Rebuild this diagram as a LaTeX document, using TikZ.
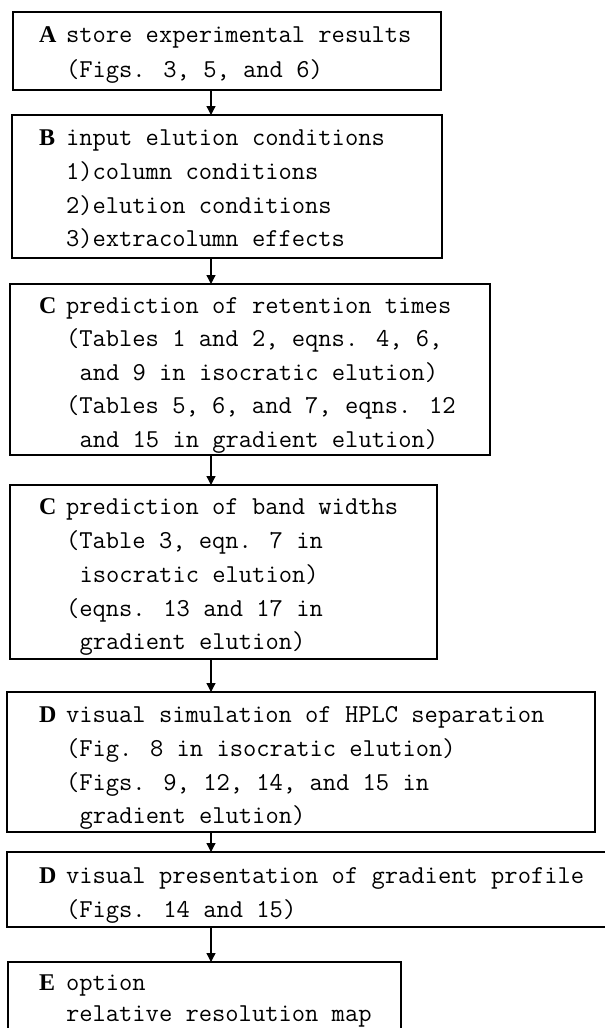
\documentclass[tikz,border=0pt]{standalone}
\usepackage{fontspec}
\newfontfamily\initfont{Liberation Serif}
\usetikzlibrary{arrows.meta}
\begin{document}
\begin{tikzpicture}[x=1pt,y=-1pt,
  stage/.style={draw, line width=1.6pt, inner sep=0pt, outer sep=0pt, anchor=north west},
  ln/.style={anchor=base west, inner sep=0pt, outer sep=0pt,
             font=\ttfamily\fontsize{25.8}{30}\selectfont},
  tag/.style={anchor=base west, inner sep=0pt, outer sep=0pt,
              font=\initfont\bfseries\fontsize{24}{28}\selectfont},
  flow/.style={-{Triangle[width=9pt,length=9pt]}, line width=1.3pt}]
\useasboundingbox (0,0) rectangle (605,1028);
\clip (0,0) rectangle (605,1028);
\coordinate (axis) at (211,0);

% boxes of the flow chart
\node[stage, minimum width=428pt, minimum height=78pt]  (A)  at (13,12)  {};
\node[stage, minimum width=430pt, minimum height=143pt] (B)  at (12,115) {};
\node[stage, minimum width=480pt, minimum height=171pt] (C)  at (10,284) {};
\node[stage, minimum width=427pt, minimum height=174pt] (C2) at (10,485) {};
\node[stage, minimum width=588pt, minimum height=140pt] (D)  at (7,692)  {};
\node[stage, minimum width=620pt, minimum height=75pt]  (D2) at (7,852)  {};
\node[stage, minimum width=393pt, minimum height=120pt] (E)  at (8,962)  {};

% A
\node[tag] (tA) at (39,42) {A};
\node[ln] (a1) at (66,42) {store experimental results};
\node[ln] (a2) at (66,77) {(Figs. 3, 5, and 6)};
% B
\node[tag] (tB) at (39,145) {B};
\node[ln] (b1) at (66,145) {input elution conditions};
\node[ln] (b2) at (66,179) {1)column conditions};
\node[ln] (b3) at (66,213) {2)elution conditions};
\node[ln] (b4) at (66,246) {3)extracolumn effects};
% C
\node[tag] (tC) at (39,313) {C};
\node[ln] (c1) at (66,313)    {prediction of retention times};
\node[ln] (c2) at (66,346.5)  {(Tables 1 and 2, eqns. 4, 6,};
\node[ln] (c3) at (79.5,380)  {and 9 in isocratic elution)};
\node[ln] (c4) at (66,413.5)  {(Tables 5, 6, and 7, eqns. 12};
\node[ln] (c5) at (79.5,447)  {and 15 in gradient elution)};
% C (band widths)
\node[tag] (tC2) at (39,514) {C};
\node[ln] (d1) at (66,514)    {prediction of band widths};
\node[ln] (d2) at (66,548)    {(Table 3, eqn. 7 in};
\node[ln] (d3) at (79.5,582)  {isocratic elution)};
\node[ln] (d4) at (66,616)    {(eqns. 13 and 17 in};
\node[ln] (d5) at (79.5,649)  {gradient elution)};
% D
\node[tag] (tD) at (39,722) {D};
\node[ln] (e1) at (66,722)    {visual simulation of HPLC separation};
\node[ln] (e2) at (66,756)    {(Fig. 8 in isocratic elution)};
\node[ln] (e3) at (66,790)    {(Figs. 9, 12, 14, and 15 in};
\node[ln] (e4) at (79.5,823)  {gradient elution)};
% D (gradient profile)
\node[tag] (tD2) at (39,883) {D};
\node[ln] (f1) at (66,883) {visual presentation of gradient profile};
\node[ln] (f2) at (66,917) {(Figs. 14 and 15)};
% E
\node[tag] (tE) at (39,990) {E};
\node[ln] (g1) at (66,990)  {option};
\node[ln] (g2) at (66,1021) {relative resolution map};

% connectors
\draw[flow] (A.south -| axis)  -- (B.north -| axis);
\draw[flow] (B.south -| axis)  -- (C.north -| axis);
\draw[flow] (C.south -| axis)  -- (C2.north -| axis);
\draw[flow] (C2.south -| axis) -- (D.north -| axis);
\draw[flow] (D.south -| axis)  -- (D2.north -| axis);
\draw[flow] (D2.south -| axis) -- (E.north -| axis);
\end{tikzpicture}
\end{document}
